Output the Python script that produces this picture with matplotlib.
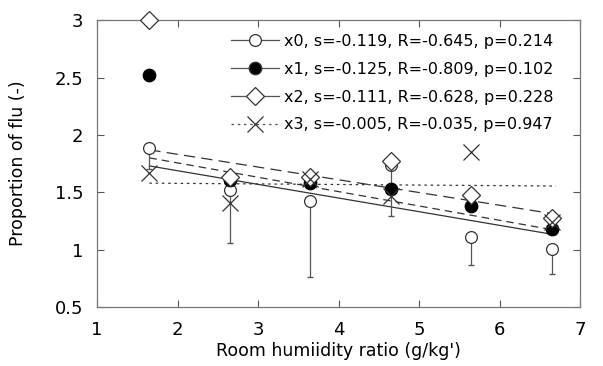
import numpy as np
import matplotlib
matplotlib.use("Agg")
import matplotlib.pyplot as plt

plt.rcParams['font.family'] = ['DejaVu Sans']

# humidity class centres
x = [1.65, 2.65, 3.65, 4.65, 5.65, 6.65]

# proportion of flu per class
x0 = [1.89, 1.52, 1.42, 1.74, 1.11, 1.01]
x1 = [2.52, 1.61, 1.58, 1.53, 1.38, 1.18]
x2 = [3.00, 1.63, 1.63, 1.77, 1.48, 1.28]
x3 = [1.67, 1.41, 1.62, 1.47, 1.85, 1.24]
x0_err_low = [0.19, 0.46, 0.66, 0.45, 0.24, 0.22]

# regression lines (slope from legend, intercept)
slopes = [-0.119, -0.125, -0.111, -0.005]
intercepts = [1.926, 2.006, 2.053, 1.588]
labels = ["x0, s=-0.119, R=-0.645, p=0.214",
          "x1, s=-0.125, R=-0.809, p=0.102",
          "x2, s=-0.111, R=-0.628, p=0.228",
          "x3, s=-0.005, R=-0.035, p=0.947"]

fig = plt.figure(figsize=(6.03, 3.66), dpi=100)
ax = fig.add_axes([0.161, 0.161, 0.801, 0.784])

series = [x0, x1, x2, x3]
markers = ['o', 'o', 'D', 'x']
faces = ['white', 'black', 'white', 'none']
sizes = [8.5, 9, 9.5, 12]
styles = ['-', (0, (6, 4)), (0, (9, 5)), (0, (2, 3))]

xs = np.array([x[0], x[-1] + 0.05])
for i, y in enumerate(series):
    fit = intercepts[i] + slopes[i] * xs
    ax.plot(xs, fit, color='#333333', lw=0.9, ls=styles[i])

ax.errorbar(x, x0, yerr=[x0_err_low, [0] * len(x)], fmt='none',
            ecolor='#555555', elinewidth=0.9, capsize=2)

handles = []
for i, y in enumerate(series):
    ax.plot(x, y, ls='none', marker=markers[i], ms=sizes[i],
            mfc=faces[i], mec='#333333' if i != 1 else 'black',
            mew=0.9, clip_on=False, zorder=5)
    h, = ax.plot([], [], color='#555555', lw=0.9,
                 ls='-' if i < 3 else (0, (2, 3)), marker=markers[i],
                 ms=sizes[i], mfc=faces[i], mec='#333333', mew=0.9)
    handles.append(h)

ax.legend(handles, labels, loc='upper right', bbox_to_anchor=(0.965, 0.985),
          frameon=False, fontsize=11.5, handlelength=3.0, handletextpad=0.3,
          labelspacing=0.8, borderaxespad=0.2)

ax.set_xlim(1, 7)
ax.set_ylim(0.5, 3)
ax.set_xticks([1, 2, 3, 4, 5, 6, 7])
ax.set_yticks([0.5, 1, 1.5, 2, 2.5, 3])
ax.set_yticklabels(['0.5', '1', '1.5', '2', '2.5', '3'])
ax.tick_params(direction='in', length=5, top=True, right=True,
               labelsize=13, pad=10, color='#555555')
for sp in ax.spines.values():
    sp.set_color('#777777')
    sp.set_linewidth(0.9)

ax.set_xlabel("Room humiidity ratio (g/kg')", fontsize=12.5, labelpad=2)
ax.set_ylabel("Proportion of flu (-)", fontsize=12.5, labelpad=20)

fig.savefig("out.png", dpi=100)
